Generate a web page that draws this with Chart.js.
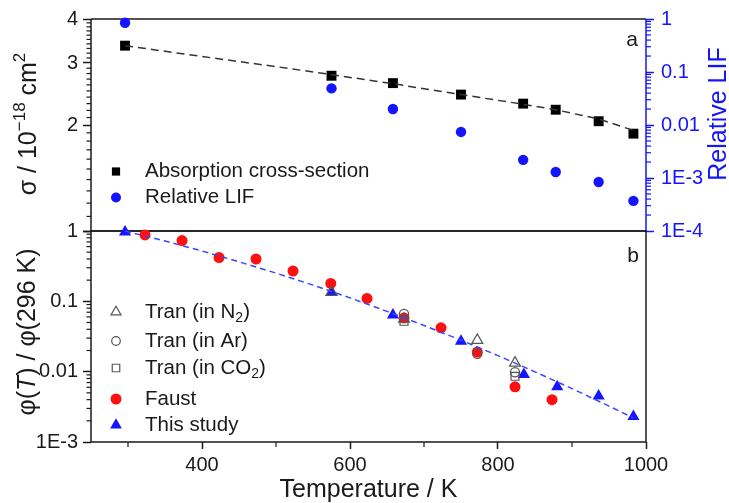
<!DOCTYPE html>
<html>
<head>
<meta charset="utf-8">
<script src="https://cdn.jsdelivr.net/npm/chart.js@4.4.0/dist/chart.umd.min.js"></script>
<style>
  body { margin: 0; background: #fff; }
  .box { position: absolute; left: 0; top: 0; width: 729px; height: 503px; }
</style>
</head>
<body>
<div class="box"><canvas id="top" width="729" height="503"></canvas></div>
<div class="box"><canvas id="bottom" width="729" height="503"></canvas></div>
<script>
// ---- panel a: absorption cross-section and relative LIF ----
const absT = [296, 575, 658, 750, 834, 878, 936, 983];
const absSigma = [3.36, 2.76, 2.63, 2.44, 2.30, 2.21, 2.05, 1.89];
const lifT = [296, 575, 658, 750, 834, 878, 936, 983];
const lifRel = [0.85, 0.049, 0.020, 0.0074, 0.0022, 0.0013, 0.00084, 0.00037];
const absFitT = [296, 400, 500, 575, 658, 750, 834, 878, 936, 983];
const absFitSigma = [3.36, 3.13, 2.93, 2.78, 2.62, 2.44, 2.29, 2.21, 2.08, 1.93];

// ---- panel b: phi(T) / phi(296 K) ----
const studyT = [296, 575, 658, 750, 835, 880, 936, 983];
const studyPhi = [0.97, 0.133, 0.064, 0.027, 0.0091, 0.0061, 0.0045, 0.0023];
const faustT = [323, 373, 423, 473, 523, 574, 623, 673, 723, 772, 823, 873];
const faustPhi = [0.88, 0.73, 0.42, 0.40, 0.27, 0.18, 0.11, 0.058, 0.042, 0.019, 0.0061, 0.0040];
const tranN2T = [575, 673, 772, 823];
const tranN2Phi = [0.135, 0.056, 0.028, 0.0133];
const tranArT = [673, 772, 823];
const tranArPhi = [0.066, 0.018, 0.0098];
const tranCO2T = [673, 823];
const tranCO2Phi = [0.052, 0.0086];
const studyFitT = [296, 350, 400, 450, 500, 550, 600, 650, 700, 750, 800, 850, 900, 950, 983];
const studyFitPhi = [1, 0.72, 0.52, 0.365, 0.252, 0.17, 0.112, 0.072, 0.0454, 0.028, 0.0169, 0.00995, 0.00574, 0.00324, 0.0022];

// ---- axes ----
const xTicks = [400, 600, 800, 1000];
const xLabels = ['400', '600', '800', '1000'];
const xMinor = [300, 500, 700, 900];
const sigmaTicks = [1, 2, 3, 4];
const sigmaLabels = ['', '2', '3', '4'];
const lifTicks = [1e-4, 1e-3, 0.01, 0.1, 1];
const lifLabels = ['1E-4', '1E-3', '0.01', '0.1', '1'];
const phiTicks = [1e-3, 0.01, 0.1, 1];
const phiLabels = ['1E-3', '0.01', '0.1', '1'];

const FONT = "'Liberation Sans', Arial, sans-serif";
const INK = '#1a1a1a';
const BLUE = '#1414ff';
const RED = '#ff1010';
const GREY = '#555';

Chart.defaults.font.family = FONT;
Chart.defaults.color = INK;

function logMinor(lo, hi) {
  const out = [];
  for (let e = lo; e < hi; e++) for (let m = 2; m <= 9; m++) out.push(m * Math.pow(10, e));
  return out;
}
const lifMinor = logMinor(-4, 0);
const phiMinor = logMinor(-3, 0);
const sigmaMinor = [];
for (let v = 11; v < 40; v++) if (v % 10) sigmaMinor.push(v / 10);

const pts = (xs, ys) => xs.map((x, i) => ({ x, y: ys[i] }));

function logAxis(pos, min, max, ticks, labels, color, width, pad) {
  return {
    type: 'logarithmic', position: pos, min, max,
    afterBuildTicks: s => { s.ticks = ticks.map(v => ({ value: v })); },
    afterFit: s => { s.width = width; },
    ticks: { autoSkip: false, callback: (v, i) => labels[i], color, font: { size: 20 }, padding: pad },
    grid: { drawOnChartArea: false, tickLength: 8, tickColor: color, tickWidth: 1.5 },
    border: { display: false }
  };
}

function line(ctx, x1, y1, x2, y2, color, w) {
  ctx.save();
  ctx.strokeStyle = color; ctx.lineWidth = w || 1.5;
  ctx.beginPath(); ctx.moveTo(x1, y1); ctx.lineTo(x2, y2); ctx.stroke();
  ctx.restore();
}

function rich(ctx, parts, x, y, size, opt) {
  opt = opt || {};
  ctx.save();
  ctx.translate(x, y);
  if (opt.rotate) ctx.rotate(opt.rotate);
  ctx.fillStyle = opt.color || INK;
  ctx.textBaseline = 'middle';
  ctx.textAlign = 'left';
  const fontOf = p => (p.italic ? 'italic ' : '') + ((p.sup || p.sub) ? Math.round(size * 0.68) : size) + 'px ' + FONT;
  let w = 0;
  parts.forEach(p => { ctx.font = fontOf(p); w += ctx.measureText(p.t).width; });
  let cx = opt.align === 'left' ? 0 : -w / 2;
  parts.forEach(p => {
    ctx.font = fontOf(p);
    const dy = p.sup ? -size * 0.36 : p.sub ? size * 0.3 : 0;
    ctx.fillText(p.t, cx, dy);
    cx += ctx.measureText(p.t).width;
  });
  ctx.restore();
}

function marker(ctx, style, x, y, r, fill, stroke) {
  ctx.save();
  ctx.beginPath();
  if (style === 'circle') ctx.arc(x, y, r, 0, Math.PI * 2);
  else if (style === 'rect') { const s = r * Math.SQRT1_2; ctx.rect(x - s, y - s, 2 * s, 2 * s); }
  else {
    for (let k = 0; k < 3; k++) {
      const a = k * 2 * Math.PI / 3;
      const px = x + Math.sin(a) * r, py = y - Math.cos(a) * r;
      if (k) ctx.lineTo(px, py); else ctx.moveTo(px, py);
    }
    ctx.closePath();
  }
  if (fill) { ctx.fillStyle = fill; ctx.fill(); }
  if (stroke) { ctx.strokeStyle = stroke; ctx.lineWidth = 1.2; ctx.stroke(); }
  ctx.restore();
}

function minorY(ctx, scale, values, x, dir, len, color) {
  values.forEach(v => {
    const y = scale.getPixelForValue(v);
    line(ctx, x, y, x + dir * len, y, color, 1.2);
  });
}

const panelA = {
  id: 'panelA',
  beforeDatasetsDraw(chart) {
    const ctx = chart.ctx, a = chart.chartArea;
    line(ctx, a.left, a.top, a.right, a.top, INK);
    line(ctx, a.left, a.bottom, a.right, a.bottom, INK);
    line(ctx, a.left, a.top, a.left, a.bottom, INK);
    line(ctx, a.right, a.top, a.right, a.bottom, BLUE);
    minorY(ctx, chart.scales.y, sigmaMinor, a.left, -1, 4.5, INK);
    minorY(ctx, chart.scales.yR, lifMinor, a.right, 1, 5, BLUE);
  },
  afterDraw(chart) {
    const ctx = chart.ctx;
    rich(ctx, [{ t: 'σ / 10' }, { t: '−18', sup: true }, { t: ' cm' }, { t: '2', sup: true }], 29, 124, 25, { rotate: -Math.PI / 2 });
    rich(ctx, [{ t: 'Relative LIF' }], 719, 114, 25, { rotate: -Math.PI / 2, color: BLUE });
    rich(ctx, [{ t: 'a' }], 632, 40, 21);
    marker(ctx, 'rect', 116, 171.5, 5.8, '#000');
    rich(ctx, [{ t: 'Absorption cross-section' }], 145, 171.5, 20.5, { align: 'left' });
    marker(ctx, 'circle', 116, 197.5, 5, BLUE);
    rich(ctx, [{ t: 'Relative LIF' }], 145, 197.5, 20.5, { align: 'left' });
  }
};

const panelB = {
  id: 'panelB',
  beforeDatasetsDraw(chart) {
    const ctx = chart.ctx, a = chart.chartArea;
    ctx.save();
    ctx.strokeStyle = INK; ctx.lineWidth = 1.5;
    ctx.strokeRect(a.left, a.top, a.right - a.left, a.bottom - a.top);
    ctx.restore();
    minorY(ctx, chart.scales.y, phiMinor, a.left, -1, 4.5, INK);
    xMinor.forEach(v => {
      const x = chart.scales.x.getPixelForValue(v);
      line(ctx, x, a.bottom, x, a.bottom + 5, INK, 1.2);
    });
  },
  afterDraw(chart) {
    const ctx = chart.ctx, a = chart.chartArea;
    rich(ctx, [{ t: 'φ(' }, { t: 'T', italic: true }, { t: ') / φ(296 K)' }], 28, 332, 25, { rotate: -Math.PI / 2 });
    rich(ctx, [{ t: 'Temperature / K' }], (a.left + a.right) / 2, 490, 25);
    rich(ctx, [{ t: 'b' }], 633, 256, 21);
    const rows = [312, 341, 368, 399, 425];
    marker(ctx, 'triangle', 116, rows[0], 5.8, null, GREY);
    rich(ctx, [{ t: 'Tran (in N' }, { t: '2', sub: true }, { t: ')' }], 145, rows[0], 20.5, { align: 'left' });
    marker(ctx, 'circle', 116, rows[1], 4.3, null, GREY);
    rich(ctx, [{ t: 'Tran (in Ar)' }], 145, rows[1], 20.5, { align: 'left' });
    marker(ctx, 'rect', 116, rows[2], 5.3, null, GREY);
    rich(ctx, [{ t: 'Tran (in CO' }, { t: '2', sub: true }, { t: ')' }], 145, rows[2], 20.5, { align: 'left' });
    marker(ctx, 'circle', 116, rows[3], 5.5, RED);
    rich(ctx, [{ t: 'Faust' }], 145, rows[3], 20.5, { align: 'left' });
    marker(ctx, 'triangle', 116, rows[4], 6.8, BLUE);
    rich(ctx, [{ t: 'This study' }], 145, rows[4], 20.5, { align: 'left' });
  }
};

const common = {
  responsive: false,
  animation: false,
  events: [],
  plugins: { legend: { display: false }, tooltip: { enabled: false } }
};

new Chart(document.getElementById('top'), {
  type: 'scatter',
  data: {
    datasets: [
      { data: pts(absFitT, absFitSigma), yAxisID: 'y', showLine: true, borderColor: '#333', borderWidth: 1.5,
        borderDash: [8, 5], pointRadius: 0, fill: false },
      { data: pts(absT, absSigma), yAxisID: 'y', pointStyle: 'rect', pointRadius: 7,
        backgroundColor: '#000', borderWidth: 0, clip: false },
      { data: pts(lifT, lifRel), yAxisID: 'yR', pointStyle: 'circle', pointRadius: 5.2,
        backgroundColor: BLUE, borderWidth: 0, clip: false }
    ]
  },
  options: Object.assign({}, common, {
    layout: { padding: { top: 19, bottom: 272, left: 0, right: 0 } },
    scales: {
      x: { type: 'linear', min: 250, max: 1000, display: false },
      y: logAxis('left', 1, 4, sigmaTicks, sigmaLabels, INK, 91, 5),
      yR: logAxis('right', 1e-4, 1, lifTicks, lifLabels, BLUE, 83, 7)
    }
  }),
  plugins: [panelA]
});

new Chart(document.getElementById('bottom'), {
  type: 'scatter',
  data: {
    datasets: [
      { data: pts(studyFitT, studyFitPhi), showLine: true, borderColor: '#3a46ff', borderWidth: 1.5,
        borderDash: [6, 4], pointRadius: 0, fill: false },
      { data: pts(tranN2T, tranN2Phi), pointStyle: 'triangle', pointRadius: 6.3,
        backgroundColor: 'rgba(0,0,0,0)', borderColor: GREY, borderWidth: 1.2, clip: false },
      { data: pts(tranArT, tranArPhi), pointStyle: 'circle', pointRadius: 4.6,
        backgroundColor: 'rgba(0,0,0,0)', borderColor: GREY, borderWidth: 1.2, clip: false },
      { data: pts(tranCO2T, tranCO2Phi), pointStyle: 'rect', pointRadius: 5.6,
        backgroundColor: 'rgba(0,0,0,0)', borderColor: GREY, borderWidth: 1.2, clip: false },
      { data: pts(faustT, faustPhi), pointStyle: 'circle', pointRadius: 5.5,
        backgroundColor: RED, borderWidth: 0, clip: false },
      { data: pts(studyT, studyPhi), pointStyle: 'triangle', pointRadius: 7,
        backgroundColor: BLUE, borderWidth: 0, clip: false }
    ]
  },
  options: Object.assign({}, common, {
    layout: { padding: { top: 231, right: 83, left: 0, bottom: 0 } },
    scales: {
      x: {
        type: 'linear', position: 'bottom', min: 250, max: 1000,
        afterBuildTicks: s => { s.ticks = xTicks.map(v => ({ value: v })); },
        afterFit: s => { s.height = 61; },
        ticks: { autoSkip: false, maxRotation: 0, callback: (v, i) => xLabels[i], color: INK, font: { size: 20 }, padding: 4 },
        grid: { drawOnChartArea: false, tickLength: 7, tickColor: INK, tickWidth: 1.5 },
        border: { display: false }
      },
      y: logAxis('left', 1e-3, 1, phiTicks, phiLabels, INK, 91, 5)
    }
  }),
  plugins: [panelB]
});
</script>
</body>
</html>
